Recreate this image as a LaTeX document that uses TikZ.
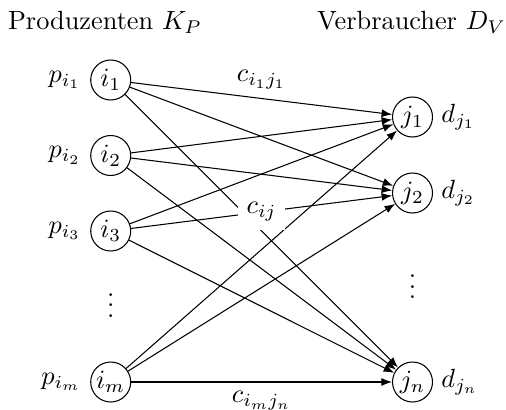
\documentclass[tikz,border=0pt]{standalone}
\usetikzlibrary{arrows.meta,positioning}
\begin{document}
\begin{tikzpicture}[x=0.38pt,y=-0.38pt,
  vtx/.style={draw,circle,minimum size=15.2pt,inner sep=0.5pt},
  edge/.style={-{Latex[length=4pt,width=3pt]}},
  lbl/.style={inner sep=3pt}]
\useasboundingbox (0,0) rectangle (506,409);
% headers
\node (hp) at (105,22) {Produzenten $K_P$};
\node (hv) at (411.5,22) {Verbraucher $D_V$};
% producer nodes
\node[vtx] (i1) at (110.7,80) {$i_1$};
\node[vtx] (i2) at (110.7,155.5) {$i_2$};
\node[vtx] (i3) at (110.7,231) {$i_3$};
\node[vtx] (im) at (110.7,382) {$i_m$};
\node (dl) at (110.7,297.5) {$\vdots$};
% consumer nodes
\node[vtx] (j1) at (412.5,117) {$j_1$};
\node[vtx] (j2) at (412.5,193) {$j_2$};
\node[vtx] (jn) at (412.5,382) {$j_n$};
\node (dr) at (412.5,279) {$\vdots$};
% supply / demand labels
\node[lbl,left=0.3pt of i1] (pi1) {$p_{i_1}$};
\node[lbl,left=0.3pt of i2] (pi2) {$p_{i_2}$};
\node[lbl,left=0.3pt of i3] (pi3) {$p_{i_3}$};
\node[lbl,left=0.3pt of im] (pim) {$p_{i_m}$};
\node[lbl,right=0pt of j1] (dj1) {$d_{j_1}$};
\node[lbl,right=0pt of j2] (dj2) {$d_{j_2}$};
\node[lbl,right=0pt of jn] (djn) {$d_{j_n}$};
% edges
\draw[edge] (i1) -- node[above] (c11) {$c_{i_1j_1}$} (j1);
\draw[edge] (i1) -- (j2);
\draw[edge] (i1) -- (jn);
\draw[edge] (i2) -- (j1);
\draw[edge] (i2) -- (j2);
\draw[edge] (i2) -- (jn);
\draw[edge] (i3) -- (j1);
\draw[edge] (i3) -- (j2);
\draw[edge] (i3) -- (jn);
\draw[edge] (im) -- (j1);
\draw[edge] (im) -- (j2);
\draw[edge] (im) -- node[below] (cmn) {$c_{i_mj_n}$} (jn);
\path (i3) -- node[midway,fill=white] (cij) {$c_{ij}$} (j2);
\end{tikzpicture}
\end{document}
